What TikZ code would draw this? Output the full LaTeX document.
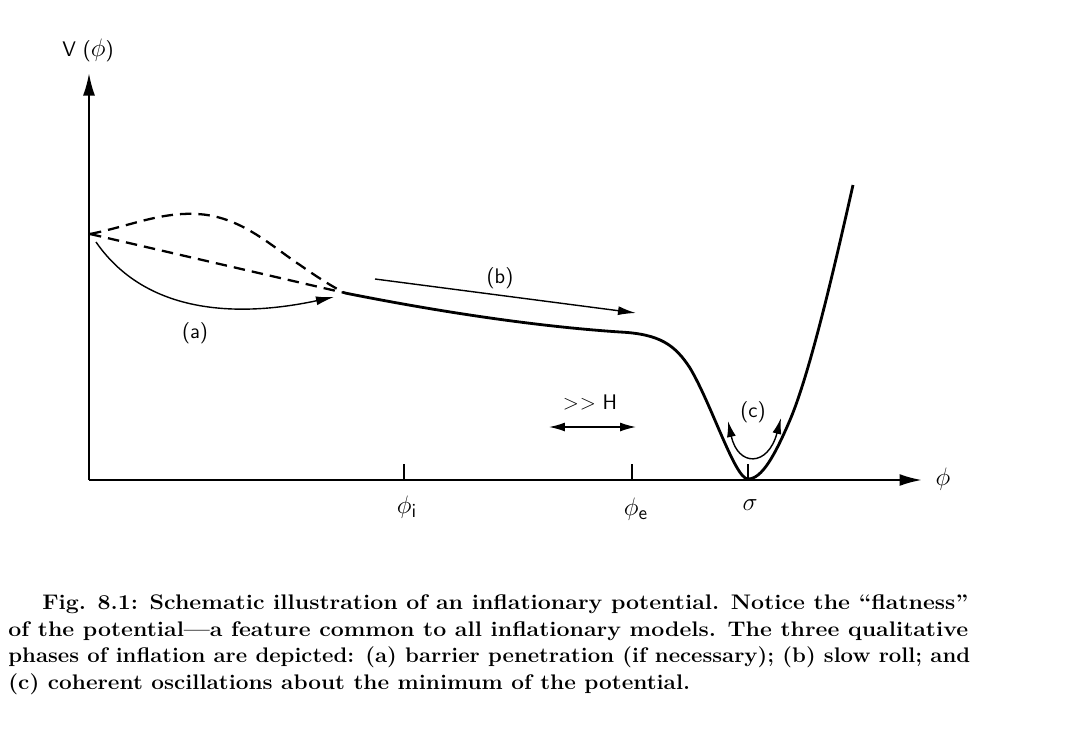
\documentclass[tikz,border=0pt]{standalone}
\usepackage{graphicx}
\usetikzlibrary{arrows.meta}
\begin{document}
\begin{tikzpicture}[x=0.02cm,y=-0.02cm,
  axis/.style={line width=1.3pt,-{Latex[length=4.5mm,width=2.4mm]}},
  potential/.style={line width=1.6pt,line join=round},
  dashcurve/.style={line width=1.3pt,dash pattern=on 6.5pt off 4pt},
  thinarrow/.style={line width=0.8pt,-{Latex[length=3.6mm,width=1.8mm]}},
  dblarrow/.style={line width=0.8pt,{Latex[length=3.2mm,width=1.8mm]}-{Latex[length=3.2mm,width=1.8mm]}},
  tickmark/.style={line width=0.9pt},
  lab/.style={font=\fontsize{12}{14}\selectfont\sffamily,inner sep=0pt},
  sym/.style={font=\fontsize{15}{17}\selectfont,inner sep=0pt},
  captext/.style={font=\fontsize{12}{14}\selectfont\bfseries,inner sep=0pt,anchor=base west}]
\useasboundingbox (0,0) rectangle (1080,731);
% axes
\coordinate (O) at (89,480);
\coordinate (ytip) at (89,73);
\coordinate (xtip) at (922,480);
\draw[axis] (O) -- (ytip);
\draw[axis] (O) -- (xtip);
% ticks
\coordinate (ti) at (404,480); \coordinate (te) at (632,480); \coordinate (ts) at (748,480);
\draw[tickmark] (ti) -- ++(0,-16);
\draw[tickmark] (te) -- ++(0,-16);
\draw[tickmark] (ts) -- ++(0,-16);
% labels on axes
\node[lab] (V) at (88,50) {V (\fontsize{15}{17}\selectfont$\phi$\fontsize{12}{14}\selectfont)};
\node[sym] (phix) at (943,479) {$\phi$};
\node[sym] (phii) at (407,507) {$\phi_{\mathsf{i}}$};
\node[sym] (phie) at (636,509) {$\phi_{\mathsf{e}}$};
\node[sym] (sig) at (750,505) {$\sigma$};
% dashed curves
\coordinate (start) at (90,234);
\coordinate (merge) at (345,293);
\draw[dashcurve] (start) -- (merge);
\draw[dashcurve] (start) .. controls (130,226) and (160,212) .. (197,214)
  .. controls (240,216) and (270,245) .. (300,265)
  .. controls (320,279) and (333,287) .. (merge);
% main potential
\coordinate (shoulder) at (620,332);
\coordinate (minpt) at (748,479);
\coordinate (top) at (853,185);
\draw[potential] (merge) .. controls (430,310) and (530,326) .. (shoulder)
  .. controls (660,334) and (675,345) .. (690,368)
  .. controls (712,405) and (735,479) .. (minpt)
  .. controls (762,479) and (775,455) .. (790,420)
  .. controls (810,373) and (835,265) .. (top);
% (a) arrow
\coordinate (as) at (96,242); \coordinate (ae) at (334,297);
\draw[thinarrow] (as) .. controls (150,320) and (250,315) .. (ae);
\node[lab] (a) at (195,333) {(a)};
% (b) arrow
\coordinate (bs) at (375,279); \coordinate (be) at (636,313);
\draw[thinarrow] (bs) -- (be);
\node[lab] (b) at (500,278) {(b)};
% >> H
\node[lab] (H) at (590,402) {\textgreater\kern0.5pt\textgreater\ H};
\coordinate (hl) at (549,427); \coordinate (hr) at (636,427);
\draw[dblarrow] (hl) -- (hr);
% (c)
\node[lab] (c) at (753,412) {(c)};
\coordinate (cl) at (728,421); \coordinate (cr) at (781,418);
\draw[dblarrow] (cl) .. controls (738,467) and (768,467) .. (cr);
% caption
\node[captext] (l1) at (42,609) {\resizebox{18.52cm}{\height}{Fig. 8.1: Schematic illustration of an inflationary potential. Notice the ``flatness''}};
\node[captext] (l2) at (8,636) {\resizebox{19.2cm}{\height}{of the potential---a feature common to all inflationary models. The three qualitative}};
\node[captext] (l3) at (8,662) {\resizebox{19.24cm}{\height}{phases of inflation are depicted: (a) barrier penetration (if necessary); (b) slow roll; and}};
\node[captext] (l4) at (8,689) {\resizebox{13.64cm}{\height}{(c) coherent oscillations about the minimum of the potential.}};
\end{tikzpicture}
\end{document}
